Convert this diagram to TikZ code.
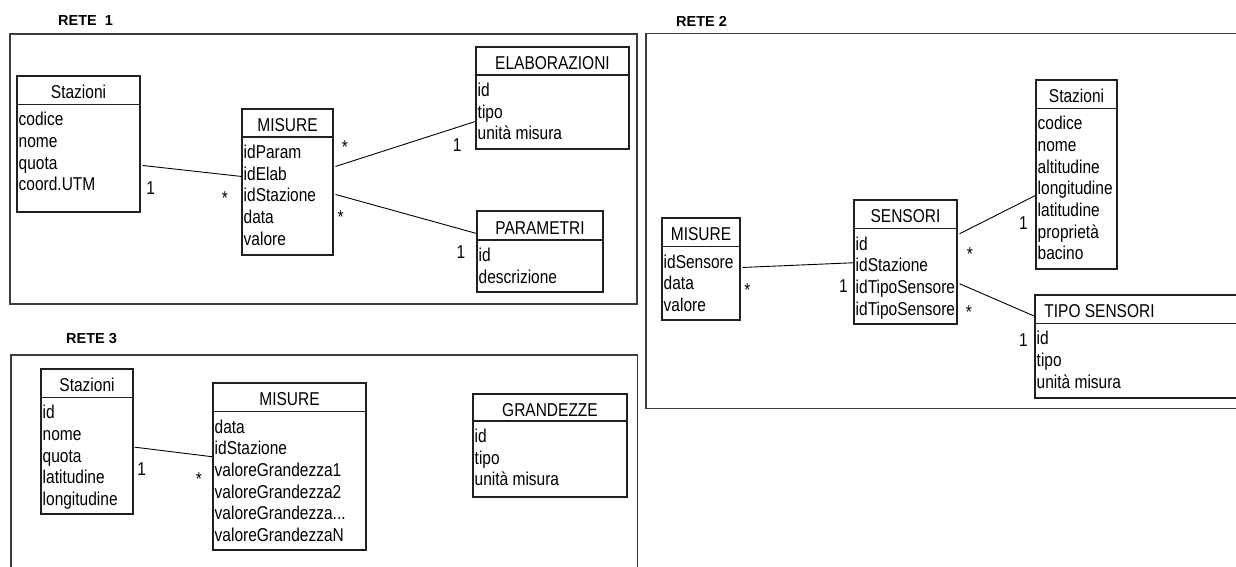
\documentclass[tikz,border=0pt]{standalone}
\usepackage{graphicx}
\usepackage{fontspec}
\setmainfont{Liberation Sans}
\usetikzlibrary{calc,fit}
\definecolor{bordoRete}{HTML}{3C3C3C}
\definecolor{lineaTab}{HTML}{202020}

\tikzset{
  rete/.style={draw=bordoRete,line width=1.6pt},
  tab/.style={draw=lineaTab,line width=1.1pt,inner sep=0pt},
  campo/.style={anchor=base west,inner sep=0pt,font=\fontsize{15.5}{18}\selectfont},
  intest/.style={anchor=base,inner sep=0pt,font=\fontsize{15.5}{18}\selectfont},
  nomerete/.style={anchor=base west,inner sep=0pt,font=\bfseries\fontsize{14.5}{17}\selectfont},
  rel/.style={draw=black,line width=0.9pt},
  molt/.style={anchor=base,inner sep=0pt,font=\fontsize{15.5}{18}\selectfont},
}

% testo un po' piu' alto, come nello schema originale
\newcommand{\alto}[1]{\scalebox{1}[1.2]{#1}}
% tre punti (fuori dalla vista di \foreach)
\newcommand{\trepunti}{...}

% tabella: [spostamento titolo] nome, x1, y1, x2, y2, riga titolo, titolo, campi
\newcommand{\tabella}[9][0]{%
  \node[tab,fit={(#3,#4) (#5,#6)}] (#2) {};
  \draw[tab] (#3,#7) -- (#5,#7);
  \node[intest] (#2-t) at ({(#3+#5)/2+#1},{(#4+#7)/2+8.5}) {\alto{#8}};
  \foreach \c [count=\i] in {#9}
    \node[campo] (#2-\i) at ({#3+1.5},{#7-0.4+21.7*\i}) {\alto{\c}};
}

\begin{document}
\begin{tikzpicture}[x=1pt,y=-1pt]
  \useasboundingbox (0,0) rectangle (1236,566);
  \clip (0,0) rectangle (1236,566);

  % RETE 1
  \node[nomerete] (r1) at (58,25.5) {RETE~~1};
  \draw[rete] (10,34) rectangle (637,304);
  \tabella{s1}{17}{76}{140}{212}{104.3}{Stazioni}{codice,nome,quota,coord.UTM}
  \tabella{m1}{242}{109}{333}{255}{137}{MISURE}{idParam,idElab,idStazione,data,valore}
  \tabella{e1}{476}{47}{629}{149}{75}{ELABORAZIONI}{id,tipo,unità misura}
  \tabella{p1}{477}{211}{603}{292}{240}{PARAMETRI}{id,descrizione}
  \draw[rel] ($(s1.north east)+(2,90)$) -- ($(m1.north west)+(0,68)$);
  \draw[rel] ($(m1.north east)+(2,58)$) -- ($(e1.north west)+(0,75)$);
  \draw[rel] ($(m1.north east)+(2,86)$) -- ($(p1.north west)+(0,23)$);
  \node[molt] (s1m) at (150.7,194.4) {\alto{1}};
  \node[molt] (m1s) at (225,204.6) {\alto{*}};
  \node[molt] (m1e) at (345,153.6) {\alto{*}};
  \node[molt] (e1m) at (457.3,151.7) {\alto{1}};
  \node[molt] (m1p) at (340.7,223.9) {\alto{*}};
  \node[molt] (p1m) at (461,258.4) {\alto{1}};

  % RETE 2
  \node[nomerete] (r2) at (676,26.2) {RETE 2};
  \draw[rete] (646,33.3) rectangle (1260,408.3);
  \tabella{ms2}{662}{218}{740}{320}{246.7}{MISURE}{idSensore,data,valore}
  \tabella{sn2}{854}{200}{957}{324}{228.7}{SENSORI}{id,idStazione,idTipoSensore,idTipoSensore}
  \tabella{st2}{1036}{80}{1117}{269}{108.3}{Stazioni}{codice,nome,altitudine,longitudine,latitudine,proprietà,bacino}
  \tabella[-43]{ts2}{1035}{295}{1250}{398}{323.3}{TIPO SENSORI}{id,tipo,unità misura}
  \draw[rel] ($(ms2.north east)+(2,50)$) -- ($(sn2.north west)+(0,63.3)$);
  \draw[rel] ($(sn2.north east)+(2,34.3)$) -- ($(st2.north west)+(0,116)$);
  \draw[rel] ($(sn2.north east)+(2,84.3)$) -- ($(ts2.north west)+(0,21.7)$);
  \node[molt] (ms2s) at (747.3,296.6) {\alto{*}};
  \node[molt] (sn2m) at (843.3,292.4) {\alto{1}};
  \node[molt] (sn2a) at (970,260.6) {\alto{*}};
  \node[molt] (st2s) at (1023.3,229.4) {\alto{1}};
  \node[molt] (sn2b) at (969,318.9) {\alto{*}};
  \node[molt] (ts2s) at (1023.3,346) {\alto{1}};

  % RETE 3
  \node[nomerete] (r3) at (66,343.6) {RETE 3};
  \draw[rete] (11,355) rectangle (637.3,590);
  \tabella{s3}{41}{369}{133}{514}{397.3}{Stazioni}{id,nome,quota,latitudine,longitudine}
  \tabella{m3}{213}{383}{366}{550}{411.7}{MISURE}{data,idStazione,valoreGrandezza1,valoreGrandezza2,valoreGrandezza\trepunti,valoreGrandezzaN}
  \tabella{g3}{473}{394}{627}{497}{421}{GRANDEZZE}{id,tipo,unità misura}
  \draw[rel] ($(s3.north east)+(1,78.7)$) -- ($(m3.north west)+(0,74.3)$);
  \node[molt] (s3m) at (141.7,475) {\alto{1}};
  \node[molt] (m3s) at (199,485.6) {\alto{*}};
\end{tikzpicture}
\end{document}
